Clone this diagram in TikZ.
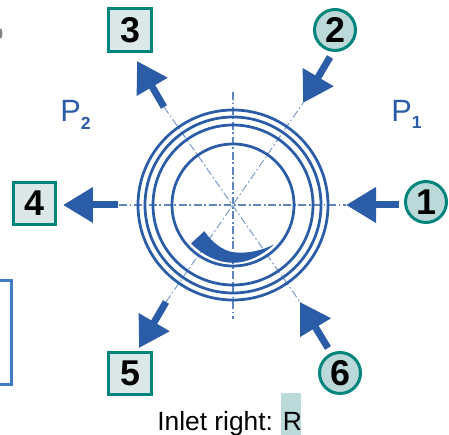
\documentclass[tikz,border=0pt]{standalone}
\usepackage{fontspec}
\setmainfont{Liberation Sans}
\usepackage{xcolor}
\usetikzlibrary{arrows.meta}
\definecolor{sealblue}{HTML}{2A5CA8}
\definecolor{axisblue}{HTML}{5F86BE}
\definecolor{frameblue}{HTML}{3F7CC4}
\definecolor{portteal}{HTML}{00857C}
\definecolor{boxfill}{HTML}{DCE8E8}
\definecolor{ringfill}{HTML}{BCD9DA}
\begin{document}
\begin{tikzpicture}[x=0.02cm,y=-0.02cm,
    portnum/.style={font=\fontsize{20.4}{20.4}\selectfont\bfseries,text=black,inner sep=0pt,draw=portteal,line width=.06cm},
    portbox/.style={portnum,rectangle,minimum size=.86cm,fill=boxfill,name=#1},
    portring/.style={portnum,circle,minimum size=.82cm,fill=ringfill,name=#1},
    flow/.style={line width=.14cm,color=sealblue,-{Triangle[length=.6cm,width=.68cm]}},
    axis/.style={axisblue,line width=.8pt,dash pattern=on 4.5pt off 1.5pt on 1pt off 1.5pt},
    ring/.style={sealblue,line width=.055cm},
    press/.style={font=\fontsize{17.5}{17.5}\selectfont,text=sealblue,inner sep=0pt,anchor=base west}]
  \useasboundingbox (0,0) rectangle (449,435);
  \coordinate (c) at (233,205);
  % cut off pieces at the left edge
  \draw [frameblue,line width=.06cm] (-10,280.5) -- (11.5,280.5) -- (11.5,384.5) -- (-10,384.5);
  \draw [gray,line width=.05cm] (0,29) .. controls (1.5,31) and (1.5,36) .. (0,38);
  % centre lines
  \coordinate (east) at (346,205);
  \coordinate (west) at (119,205);
  \coordinate (north) at (233,92);
  \coordinate (south) at (233,319);
  \coordinate (tip2) at (303,103);
  \coordinate (tail3) at (164,107);
  \coordinate (tail5) at (166,302);
  \coordinate (tip6) at (300,302);
  \draw [axis] (west) -- (east);
  \draw [axis] (north) -- (south);
  \draw [axis,line width=.6pt,axisblue!80] (tail3) -- (tip6);
  \draw [axis,line width=.6pt,axisblue!80] (tail5) -- (tip2);
  % seal rings
  \foreach \r in {95,88,80,61}
    \draw [ring] (c) circle [radius=\r];
  \fill [sealblue] (191,243.5) -- (204.3,231.2)
    .. controls (212,242) and (222,250.5) .. (233.3,252.2)
    .. controls (247,254) and (262,250.5) .. (274,244.5)
    .. controls (262,255.5) and (248,262.8) .. (233.3,262.8)
    .. controls (218,262.8) and (203,255.5) .. cycle;
  % ports
  \node [portring=p1] at (426,202) {1};
  \node [portring=p2] at (335,30) {2};
  \node [portbox=p3] at (130,30.5) {3};
  \node [portbox=p4] at (34.5,203.5) {4};
  \node [portbox=p5] at (130,373.5) {5};
  \node [portring=p6] at (340,373) {6};
  \coordinate (tail1) at (399,205);
  \coordinate (tail2) at (330,57);
  \coordinate (tip3) at (137,61);
  \coordinate (tail4) at (118,205);
  \coordinate (tip4) at (63,205);
  \coordinate (tip5) at (139,348);
  \coordinate (tail6) at (328,348);
  \draw [flow] (tail1) -- (east);
  \draw [flow] (tail2) -- (tip2);
  \draw [flow] (tail3) -- (tip3);
  \draw [flow] (tail4) -- (tip4);
  \draw [flow] (tail5) -- (tip5);
  \draw [flow] (tail6) -- (tip6);
  % pressure sides
  \node [press] (sideone) at (391,122) {P\raisebox{-.13cm}{\fontsize{10}{10}\selectfont\bfseries 1}};
  \node [press] (sidetwo) at (60,122) {P\raisebox{-.16cm}{\fontsize{10}{10}\selectfont\bfseries 2}};
  % caption
  \node [fill=ringfill,inner sep=0pt,minimum width=.4cm,minimum height=.86cm] (mark) at (291,414.5) {};
  \node [font=\fontsize{15}{15}\selectfont,inner sep=0pt,anchor=base west] (inlet) at (157,430.7) {Inlet right: R};
\end{tikzpicture}
\end{document}
